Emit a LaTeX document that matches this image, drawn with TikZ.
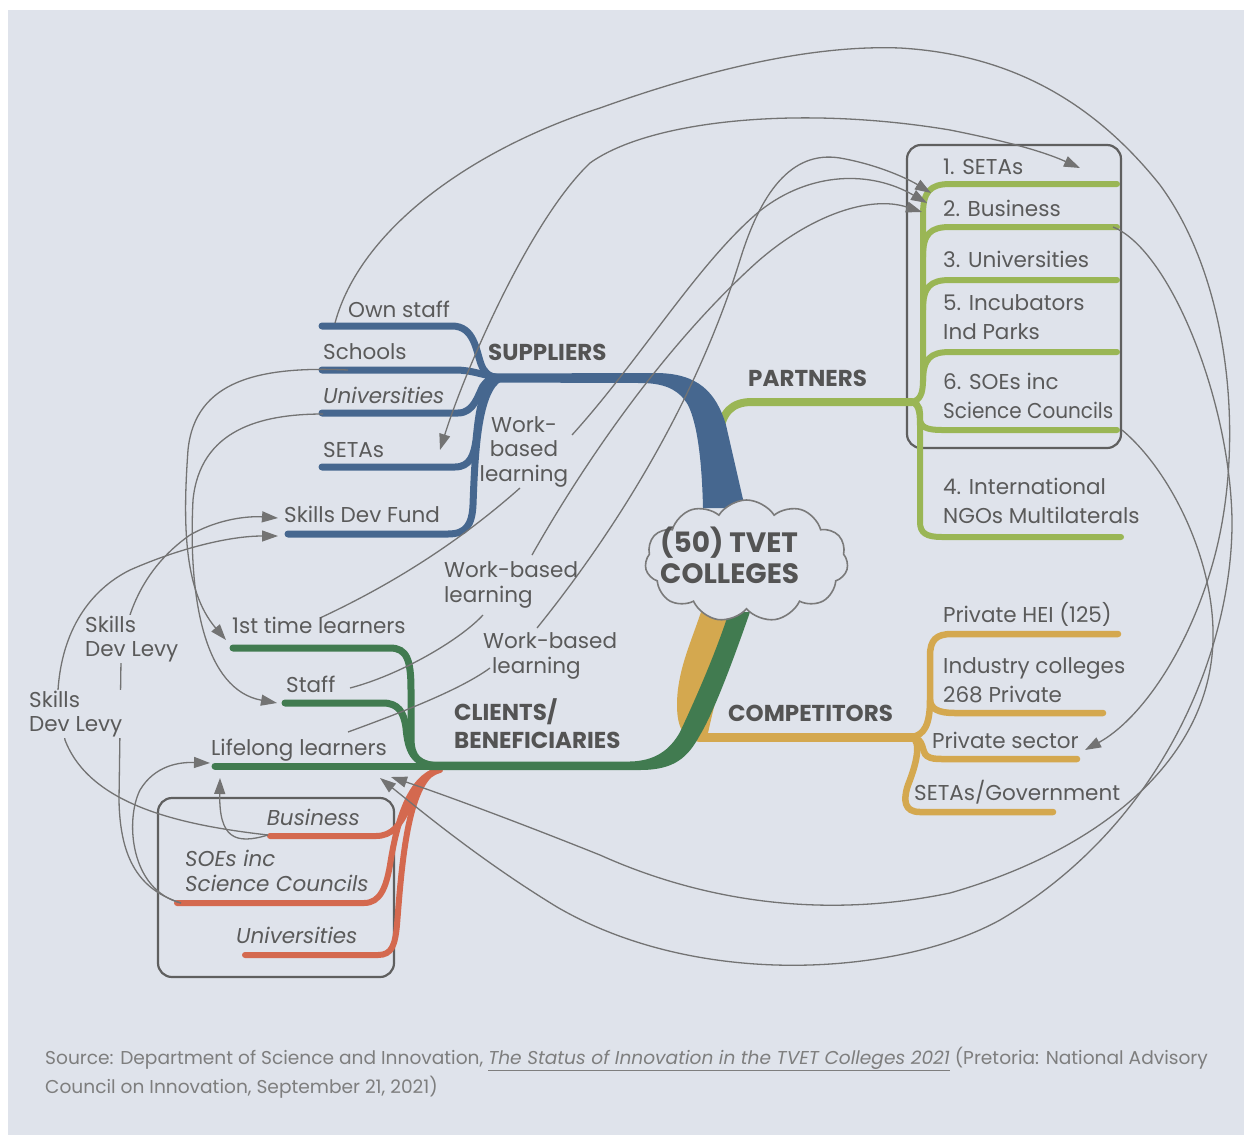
\documentclass[tikz,border=0pt]{standalone}
\usepackage{fontspec}
\setmainfont{Poppins}
\usetikzlibrary{shapes.symbols,arrows.meta}
\definecolor{bgc}{HTML}{DFE3EB}
\definecolor{txt}{HTML}{5A5A5A}
\definecolor{headc}{HTML}{545454}
\definecolor{connc}{HTML}{737373}
\definecolor{sup}{HTML}{46678F}
\definecolor{par}{HTML}{9AB655}
\definecolor{com}{HTML}{D4A84F}
\definecolor{cli}{HTML}{417B50}
\definecolor{org}{HTML}{D4694F}
\definecolor{boxc}{HTML}{5F5F5F}
\definecolor{capc}{HTML}{7E7E7E}
\definecolor{cloudc}{HTML}{7A7A7A}
\begin{document}
\begin{tikzpicture}[x=1pt,y=-1pt,
  lbl/.style={text=txt,font={\fontsize{21.5}{29}\selectfont},inner sep=0pt,anchor=base west,align=left},
  lbltight/.style={lbl,font={\fontsize{21.5}{24.5}\selectfont}},
  ital/.style={lbl,font={\fontsize{21.5}{24.5}\selectfont\itshape}},
  head/.style={text=headc,font={\fontsize{23}{28}\selectfont\bfseries},inner sep=0pt,anchor=base west,align=left},
  lineS/.style={draw=sup,line width=7pt,line cap=round},
  lineP/.style={draw=par,line width=6pt,line cap=round},
  lineC/.style={draw=com,line width=6.5pt,line cap=round},
  lineG/.style={draw=cli,line width=7pt,line cap=round},
  lineO/.style={draw=org,line width=6pt,line cap=round},
  conn/.style={draw=connc,line width=1.3pt},
  arr/.style={conn,-{Triangle[length=16pt,width=11pt]}},
  darr/.style={conn,{Triangle[length=16pt,width=11pt]}-{Triangle[length=16pt,width=11pt]}},
  grp/.style={draw=boxc,line width=2.2pt,rounded corners=14pt},
  lvl/.style={lbl,font={\fontsize{21.5}{23.5}\selectfont},fill=bgc,inner sep=1pt}
]
\useasboundingbox (0,0) rectangle (1244,1135);
\fill[white] (0,0) rectangle (1244,1135);
\fill[bgc] (8,10) rectangle (1244,1135);

% group boxes
\draw[grp] (907,145) rectangle (1121,448);
\draw[grp] (158,798) rectangle (394,977);

% ---------- ribbons ----------
\draw[lineP,line width=8pt] (719,435) .. controls (722,412) and (732,402) .. (752,402) -- (912,402);
\fill[sup] (485,373.5) -- (655,373) .. controls (698,373) and (716,392) .. (726,425) -- (745,508) -- (703,508) .. controls (702,465) and (698,425) .. (688,405) .. controls (678,388) and (662,383) .. (640,383) -- (485,382.5) -- cycle;
\fill[com] (701,612) -- (738,612) .. controls (726,660) and (714,705) .. (708,733) -- (700,742) .. controls (684,740) and (677,728) .. (677,705) .. controls (677,672) and (690,645) .. (701,612) -- cycle;
\draw[com,line width=9pt] (700,737.5) -- (915,737.5);
\draw[lineO] (270,836) -- (376,836) .. controls (392,836) and (400,825) .. (408,808) .. controls (416,790) and (424,774) .. (440,770);
\draw[lineO] (177,903) -- (364,903) .. controls (380,903) and (386,888) .. (390,865) .. controls (397,820) and (410,778) .. (438,770);
\draw[lineO] (245,955) -- (378,955) .. controls (392,955) and (395,945) .. (397,925) .. controls (402,860) and (408,785) .. (436,770);
\fill[cli] (729,612) -- (750,612) .. controls (735,655) and (715,710) .. (700,735) .. controls (688,757) and (675,770) .. (640,770) -- (430,770) -- (430,761.5) -- (630,761.5) .. controls (655,761) and (670,750) .. (680,732) .. controls (695,700) and (715,655) .. (729,612) -- cycle;

% ---------- leaves ----------
\draw[lineS] (322,326) -- (452,326) .. controls (474,326) and (476,350) .. (481,364) .. controls (484,372) and (488,377) .. (500,378);
\draw[lineS] (322,370) -- (455,370) .. controls (472,370) and (482,375) .. (500,378);
\draw[lineS] (322,413) -- (458,413) .. controls (474,413) and (478,395) .. (483,386) .. controls (487,380) and (492,378) .. (500,378);
\draw[lineS] (322,467) -- (455,467) .. controls (470,467) and (474,455) .. (476,440) .. controls (479,410) and (482,385) .. (500,378);
\draw[lineS] (288,534) -- (448,534) .. controls (466,534) and (472,525) .. (473,505) .. controls (475,450) and (478,390) .. (500,378);

\draw[lineP] (912,402) .. controls (920,400) and (923,394) .. (923,380) -- (923,214) .. controls (923,192) and (930,184) .. (950,184) -- (1117,184);
\draw[lineP] (923,257) .. controls (923,234) and (930,227) .. (950,227) -- (1117,227);
\draw[lineP] (923,310) .. controls (923,287) and (930,280) .. (950,280) -- (1117,280);
\draw[lineP] (923,382) .. controls (923,359) and (930,352) .. (950,352) -- (1117,352);
\draw[lineP] (912,402) .. controls (921,404) and (920,412) .. (920,418) .. controls (920,427) and (926,430) .. (942,430) -- (1117,430);
\draw[lineP] (912,402) .. controls (920,405) and (920,415) .. (920,430) -- (920,522) .. controls (920,533) and (926,537) .. (942,537) -- (1121,537);

\draw[lineC] (912,737) .. controls (924,735) and (930,725) .. (930,700) -- (930,656) .. controls (930,640) and (936,634) .. (952,634) -- (1118,634);
\draw[lineC] (930,700) .. controls (931,709) and (938,713) .. (955,713) -- (1103,713);
\draw[lineC] (912,737) .. controls (925,739) and (921,752) .. (927,756) .. controls (931,759) and (936,759) .. (945,759) -- (1077,759);
\draw[lineC] (912,737) .. controls (922,742) and (916,765) .. (908,785) .. controls (903,800) and (904,812) .. (920,812) -- (1053,812);

\draw[lineG] (215,766) -- (440,766);
\draw[lineG] (233,648) -- (390,648) .. controls (407,648) and (411,660) .. (411,690) -- (411,738) .. controls (411,757) and (418,765) .. (440,766);
\draw[lineG] (285,703) -- (383,703) .. controls (398,703) and (404,712) .. (406,728) .. controls (408,750) and (413,764) .. (436,766);

% ---------- cloud ----------
\node[cloud,cloud puffs=11,cloud puff arc=115,cloud ignores aspect,draw=cloudc,line width=1.6pt,fill=bgc,minimum width=203pt,minimum height=122pt,inner sep=0pt] (tvet) at (746.5,561) {};
\node[head,font={\fontsize{28}{31}\selectfont\bfseries}] (tvettxt) at (660,583) {(50) TVET\\COLLEGES};

% ---------- connector end points ----------
\coordinate (osA) at (335,323);
\coordinate (psA) at (1085,750);
\coordinate (seA) at (440,450);
\coordinate (s1A) at (1080,168);
\coordinate (scA) at (348,370);
\coordinate (ftA) at (226,640);
\coordinate (unA) at (323,414);
\coordinate (stA) at (277,703);
\coordinate (ftB) at (320,618);
\coordinate (waB) at (520,488);
\coordinate (waT) at (572,435);
\coordinate (b2a) at (927,203);
\coordinate (stB) at (350,688);
\coordinate (wbB) at (483,615);
\coordinate (wbT) at (532,555);
\coordinate (b2b) at (922,212);
\coordinate (llB) at (348,732);
\coordinate (wcB) at (490,668);
\coordinate (wcT) at (537,628);
\coordinate (b2c) at (931,193);
\coordinate (oSoe) at (181,903);
\coordinate (oBus) at (268,835);
\coordinate (sdfU) at (278,518);
\coordinate (sdfL) at (278,536);
\coordinate (llUp) at (220,778);
\coordinate (llLf) at (210,763);
\coordinate (pBus) at (1113,227);
\coordinate (pSoe) at (1122,430);
\coordinate (llR1) at (380,778);
\coordinate (llR2) at (391,777);

% ---------- connectors ----------
\draw[arr] (osA) .. controls (360,230) and (470,150) .. (600,108) .. controls (720,65) and (820,45) .. (900,48) .. controls (1020,55) and (1100,110) .. (1160,185) .. controls (1230,280) and (1245,440) .. (1215,555) .. controls (1190,650) and (1140,720) .. (psA);
\draw[darr] (seA) .. controls (465,370) and (530,220) .. (590,163) .. controls (650,120) and (800,105) .. (950,130) .. controls (1000,140) and (1040,150) .. (s1A);
\draw[arr] (scA) .. controls (260,366) and (195,380) .. (188,450) .. controls (183,520) and (183,590) .. (ftA);
\draw[arr] (unA) .. controls (260,414) and (200,430) .. (193,500) .. controls (188,600) and (205,690) .. (stA);
\draw[conn] (ftB) .. controls (380,590) and (450,550) .. (waB);
\draw[arr] (waT) .. controls (640,360) and (700,260) .. (761,210) .. controls (810,172) and (870,170) .. (b2a);
\draw[conn] (stB) .. controls (400,675) and (460,640) .. (wbB);
\draw[arr] (wbT) .. controls (580,470) and (660,350) .. (756,263) .. controls (810,215) and (870,195) .. (b2b);
\draw[conn] (llB) .. controls (400,713) and (460,690) .. (wcB);
\draw[arr] (wcT) .. controls (600,550) and (690,420) .. (740,260) .. controls (760,195) and (790,150) .. (840,158) .. controls (880,165) and (910,180) .. (b2c);
\draw[arr] (oSoe) .. controls (140,890) and (120,860) .. (119,800) -- (121,660) .. controls (124,620) and (140,570) .. (190,535) .. controls (220,518) and (250,516) .. (sdfU);
\draw[arr] (oBus) .. controls (180,825) and (90,805) .. (65,740) -- (58,690) .. controls (62,630) and (90,590) .. (130,570) .. controls (180,548) and (230,536) .. (sdfL);
\draw[arr] (oBus) .. controls (235,845) and (219,838) .. (llUp);
\draw[arr] (oSoe) .. controls (130,890) and (125,820) .. (140,790) .. controls (155,765) and (180,762) .. (llLf);
\draw[arr] (pBus) .. controls (1170,250) and (1230,400) .. (1232,520) .. controls (1233,640) and (1170,820) .. (1000,920) .. controls (900,975) and (700,990) .. (557,907) .. controls (480,860) and (420,810) .. (llR1);
\draw[arr] (pSoe) .. controls (1170,470) and (1215,560) .. (1213,640) .. controls (1210,760) and (1100,850) .. (950,893) .. controls (820,920) and (700,900) .. (600,855) .. controls (500,815) and (430,790) .. (llR2);

% ---------- labels (base = last line) ----------
\node[lbl] (ownstaff) at (348,317) {Own staff};
\node[lbl] (schools) at (323,359) {Schools};
\node[lbl,font={\fontsize{21.5}{29}\selectfont\itshape}] (univS) at (323,403) {Universities};
\node[lbl] (setasS) at (323,457) {SETAs};
\node[lbl] (sdf) at (284,522) {Skills Dev Fund};
\node[head] (suppliers) at (488,360) {SUPPLIERS};
\node[lbltight,align=center,anchor=base] (wblA) at (524,481) {Work-\\based\\learning};

\node[head] (partners) at (748,386) {PARTNERS};
\node[lbl] (p1) at (943,174) {1. SETAs};
\node[lbl] (p2) at (943,216) {2. Business};
\node[lbl] (p3) at (943,267) {3. Universities};
\node[lbl] (p5) at (943,339) {5. Incubators\\Ind Parks};
\node[lbl] (p6) at (943,418) {6. SOEs inc\\\scalebox{0.93}[1]{Science Councils}};
\node[lbl] (p4) at (943,523) {4. International\\NGOs Multilaterals};

\node[head] (competitors) at (728,721) {COMPETITORS};
\node[lbl] (c1) at (943,622) {Private HEI (125)};
\node[lbl] (c2) at (943,702) {Industry colleges\\268 Private};
\node[lbl] (c3) at (932,748) {Private sector};
\node[lbl] (c4) at (914,800) {SETAs/Government};

\node[head] (clients) at (454,748) {CLIENTS/\\BENEFICIARIES};
\node[lbl] (first) at (232,633) {1st time learners};
\node[lbl] (staff) at (286,692) {Staff};
\node[lbl] (life) at (211,755) {Lifelong learners};
\node[lbltight] (wblB) at (444,602) {Work-based\\learning};
\node[lbltight] (wblC) at (483,673) {Work-based\\\hspace*{9pt}learning};
\node[lvl] (sdlU) at (84,656) {Skills\\Dev Levy};
\node[lvl] (sdlL) at (28,731) {Skills\\Dev Levy};

\node[ital,anchor=base east] (oBusT) at (360,825) {Business};
\node[ital] (oSoeT) at (185,891) {SOEs inc\\Science Councils};
\node[ital] (oUniT) at (236,943) {Universities};

\node[text=capc,font={\fontsize{18.6}{29}\selectfont},inner sep=0pt,anchor=base west,align=left] (caption) at (45,1093) {Source: Department of Science and Innovation, \underline{\textit{The Status of Innovation in the TVET Colleges 2021}} (Pretoria: National Advisory\\Council on Innovation, September 21, 2021)};
\end{tikzpicture}
\end{document}
